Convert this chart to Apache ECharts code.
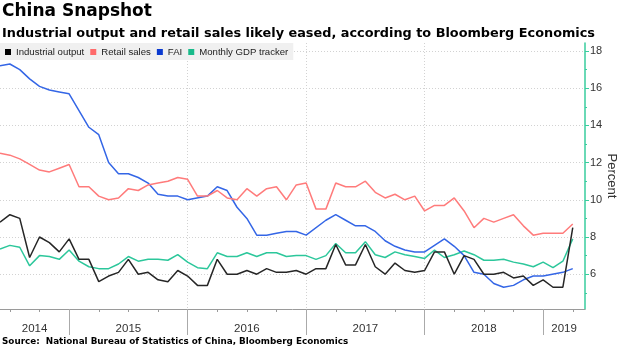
<!DOCTYPE html>
<html><head><meta charset="utf-8">
<script src="https://cdn.jsdelivr.net/npm/echarts@6/dist/echarts.min.js"></script>
<style>html,body{margin:0;padding:0;background:#fff}#c{width:620px;height:348px}</style>
</head><body><div id="c"></div>
<script>
// Month-end observations, May 2014 .. Mar 2019
const months = [
 '2014-05','2014-06','2014-07','2014-08','2014-09','2014-10','2014-11','2014-12',
 '2015-01','2015-02','2015-03','2015-04','2015-05','2015-06','2015-07','2015-08','2015-09','2015-10','2015-11','2015-12',
 '2016-01','2016-02','2016-03','2016-04','2016-05','2016-06','2016-07','2016-08','2016-09','2016-10','2016-11','2016-12',
 '2017-01','2017-02','2017-03','2017-04','2017-05','2017-06','2017-07','2017-08','2017-09','2017-10','2017-11','2017-12',
 '2018-01','2018-02','2018-03','2018-04','2018-05','2018-06','2018-07','2018-08','2018-09','2018-10','2018-11','2018-12',
 '2019-01','2019-02','2019-03'
];
const industrialOutput = [
 8.8, 9.2, 9.0, 6.9, 8.0, 7.7, 7.2, 7.9,
 6.8, 6.8, 5.6, 5.9, 6.1, 6.8, 6.0, 6.1, 5.7, 5.6, 6.2, 5.9,
 5.4, 5.4, 6.8, 6.0, 6.0, 6.2, 6.0, 6.3, 6.1, 6.1, 6.2, 6.0,
 6.3, 6.3, 7.6, 6.5, 6.5, 7.6, 6.4, 6.0, 6.6, 6.2, 6.1, 6.2,
 7.2, 7.2, 6.0, 7.0, 6.8, 6.0, 6.0, 6.1, 5.8, 5.9, 5.4, 5.7,
 5.3, 5.3, 8.5
];
const retailSales = [
 12.5, 12.4, 12.2, 11.9, 11.6, 11.5, 11.7, 11.9,
 10.7, 10.7, 10.2, 10.0, 10.1, 10.6, 10.5, 10.8, 10.9, 11.0, 11.2, 11.1,
 10.2, 10.2, 10.5, 10.1, 10.0, 10.6, 10.2, 10.6, 10.7, 10.0, 10.8, 10.9,
 9.5, 9.5, 10.9, 10.7, 10.7, 11.0, 10.4, 10.1, 10.3, 10.0, 10.2, 9.4,
 9.7, 9.7, 10.1, 9.4, 8.5, 9.0, 8.8, 9.0, 9.2, 8.6, 8.1, 8.2,
 8.2, 8.2, 8.7
];
const fai = [
 17.2, 17.3, 17.0, 16.5, 16.1, 15.9, 15.8, 15.7,
 null, 13.9, 13.5, 12.0, 11.4, 11.4, 11.2, 10.9, 10.3, 10.2, 10.2, 10.0,
 null, 10.2, 10.7, 10.5, 9.6, 9.0, 8.1, 8.1, 8.2, 8.3, 8.3, 8.1,
 null, 8.9, 9.2, 8.9, 8.6, 8.6, 8.3, 7.8, 7.5, 7.3, 7.2, 7.2,
 null, 7.9, 7.5, 7.0, 6.1, 6.0, 5.5, 5.3, 5.4, 5.7, 5.9, 5.9,
 null, 6.1, 6.3
];
const gdpTracker = [
 7.35, 7.55, 7.45, 6.45, 7.0, 6.95, 6.8, 7.3,
 6.7, 6.4, 6.3, 6.3, 6.55, 6.95, 6.7, 6.8, 6.8, 6.75, 7.05, 6.65,
 6.35, 6.3, 7.15, 6.95, 6.95, 7.15, 6.95, 7.15, 7.15, 6.95, 7.0, 7.0,
 6.8, 7.0, 7.65, 7.15, 7.15, 7.75, 7.05, 6.9, 7.2, 7.05, 6.95, 6.85,
 7.3, 6.9, 7.05, 7.25, 7.05, 6.75, 6.75, 6.8, 6.65, 6.55, 6.4, 6.65,
 6.35, 6.7, 7.9
];
const seriesNames = ['Industrial output', 'Retail sales', 'FAI', 'Monthly GDP tracker'];
const yearLabels = ['2014', '2015', '2016', '2017', '2018', '2019'];
const yTickValues = [6, 8, 10, 12, 14, 16, 18];
const yMinorTickValues = [5, 7, 9, 11, 13, 15, 17];

// ---- derived positions (month index on a value axis) ----
const xMax = months.length - 1 + 1.24;
const yearBounds = [];
const quarterTicks = [];
months.forEach((m, i) => {
  const mm = m.slice(5);
  if (mm === '12' && i < months.length - 1) yearBounds.push(i);
  if (mm === '03' || mm === '06' || mm === '09') quarterTicks.push(i);
});
const edges = [0].concat(yearBounds, [xMax]);
const yearLabelPos = [];
for (let k = 0; k < edges.length - 1; k++) yearLabelPos.push((edges[k] + edges[k + 1]) / 2);

const toPairs = arr => arr.map((v, i) => [i, v]);
const lineColors = ['#262626', '#ff7b7b', '#3466e6', '#2cc79b'];
const legendColors = ['#000000', '#ff6b6b', '#0a3ad0', '#19bb8b'];
const dataArrays = [industrialOutput, retailSales, fai, gdpTracker];

const dotted = { color: '#d2d2d2', type: [1, 2], width: 1 };
const teal = '#38cc9e';
const base = 'Liberation Sans, Arial, sans-serif';
const boldFont = 'DejaVu Sans, sans-serif';

const series = [3, 2, 1, 0].map(k => ({
  name: seriesNames[k], type: 'line', xAxisIndex: 0, yAxisIndex: 0,
  data: toPairs(dataArrays[k]), showSymbol: false, symbol: 'none',
  connectNulls: true, silent: true,
  lineStyle: { width: 1.5, color: lineColors[k] }, itemStyle: { color: lineColors[k] }
}));

const chart = echarts.init(document.getElementById('c'), null, { renderer: 'canvas' });
chart.setOption({
  animation: false,
  textStyle: { fontFamily: base },
  title: [
    { text: 'China Snapshot', left: 2, top: 3, padding: 0,
      textStyle: { fontFamily: boldFont, fontWeight: 'bold', fontSize: 17, color: '#000' } },
    { text: 'Industrial output and retail sales likely eased, according to Bloomberg Economics', left: 2, top: 27, padding: 0,
      textStyle: { fontFamily: boldFont, fontWeight: 'bold', fontSize: 12.85, color: '#000' } },
    { text: 'Source:  National Bureau of Statistics of China, Bloomberg Economics', left: 2, top: 337, padding: 0,
      textStyle: { fontFamily: boldFont, fontWeight: 'bold', fontSize: 8.8, color: '#000' } }
  ],
  legend: {
    left: 0, top: 43, padding: [4, 5, 3, 5], backgroundColor: '#f0f0f0',
    itemWidth: 6, itemHeight: 6, itemGap: 6, icon: 'rect', selectedMode: false,
    textStyle: { fontFamily: base, fontSize: 9.6, color: '#222' },
    data: seriesNames.map((nm, k) => ({ name: nm, itemStyle: { color: legendColors[k], borderWidth: 0 } }))
  },
  grid: { left: 0, right: 35, top: 43, bottom: 39, containLabel: false, outerBoundsMode: 'none' },
  xAxis: [
    { type: 'value', min: 0, max: xMax, position: 'bottom',
      axisLine: { show: true, onZero: false, lineStyle: { color: '#9a9a9a', width: 1 } },
      axisTick: { show: true, customValues: quarterTicks, length: 3, lineStyle: { color: '#9a9a9a' } },
      axisLabel: { show: true, customValues: yearLabelPos, margin: 14, fontSize: 11.5, color: '#333',
        formatter: v => { const i = yearLabelPos.findIndex(p => Math.abs(p - v) < 1e-6); return i >= 0 ? yearLabels[i] : ''; } },
      splitLine: { show: false, showMinLine: false, showMaxLine: false } },
    { type: 'value', min: 0, max: xMax, position: 'bottom',
      axisLine: { show: false, onZero: false },
      axisTick: { show: true, customValues: yearBounds, length: 26, lineStyle: { color: '#aaaaaa' } },
      axisLabel: { show: false },
      splitLine: { show: true, showMinLine: false, showMaxLine: false, lineStyle: dotted } }
  ],
  yAxis: [
    { type: 'value', position: 'right', min: 4.13, max: 18.43,
      axisLine: { show: true, onZero: false, lineStyle: { color: teal, width: 1.5 } },
      axisTick: { show: true, customValues: yTickValues, length: 4, lineStyle: { color: teal } },
      axisLabel: { show: true, customValues: yTickValues, margin: 5, fontSize: 11, color: '#333' },
      splitLine: { show: true, lineStyle: dotted },
      name: 'Percent', nameLocation: 'middle', nameRotate: -90, nameGap: 20, nameMoveOverlap: false,
      nameTextStyle: { fontFamily: base, fontSize: 13, color: '#333' } },
    { type: 'value', position: 'right', min: 4.13, max: 18.43,
      axisLine: { show: false, onZero: false },
      axisTick: { show: true, customValues: yMinorTickValues, length: 2, lineStyle: { color: teal } },
      axisLabel: { show: false }, splitLine: { show: false } }
  ],
  series: series
});
</script></body></html>
